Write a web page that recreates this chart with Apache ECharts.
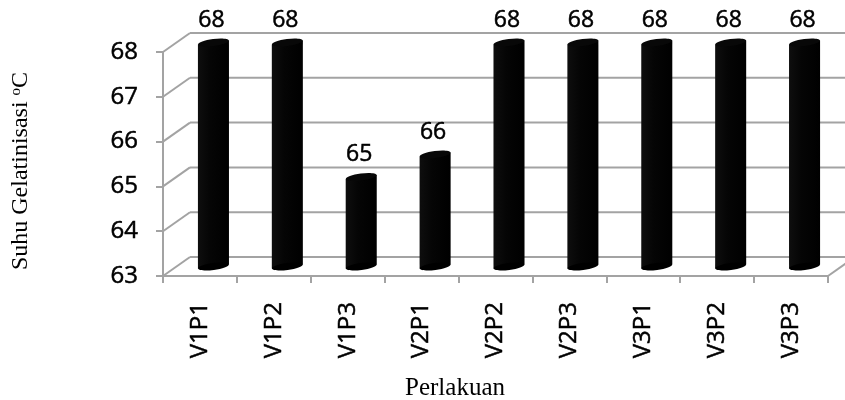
<!DOCTYPE html>
<html>
<head>
<meta charset="utf-8">
<script src="https://cdn.jsdelivr.net/npm/echarts@6/dist/echarts.min.js"></script>
<style>
  html, body { margin: 0; padding: 0; background: #fff; }
  #chart { width: 845px; height: 400px; }
</style>
</head>
<body>
<div id="chart"></div>
<script>
// Gelatinization temperature per treatment
const categories = ['V1P1', 'V1P2', 'V1P3', 'V2P1', 'V2P2', 'V2P3', 'V3P1', 'V3P2', 'V3P3'];
const gelatinizationTemp = [68, 68, 65, 65.5, 68, 68, 68, 68, 68];
const yTicks = [63, 64, 65, 66, 67, 68];
const yTitle = 'Suhu Gelatinisasi {sup|o}C';
const xTitle = 'Perlakuan';

// oblique depth of the pseudo-3D box (pixels)
const DEPTH_X = 27;
const DEPTH_Y = 19;
const GRID_COLOR = '#a3a3a3';
const GRID_WIDTH = 2;
const SANS = '"Open Sans", "Noto Sans", sans-serif';
const SERIF = '"Liberation Serif", "Times New Roman", serif';
// slightly heavier strokes for the sans axis labels
const LABEL_WEIGHT = { textBorderColor: '#000', textBorderWidth: 0.5 };

const chart = echarts.init(document.getElementById('chart'));

// back wall gridlines, side wall connectors and floor edge
function renderWalls(params, api) {
  const v = api.value(1);
  const n = categories.length;
  const bw = api.size([1, 0])[0];
  const p0 = api.coord([0, v]);
  const p1 = api.coord([n - 1, v]);
  const left = p0[0] - bw / 2;
  const right = p1[0] + bw / 2;
  const y = p0[1];
  const style = { stroke: GRID_COLOR, lineWidth: GRID_WIDTH };
  const children = [
    { type: 'line', shape: { x1: left, y1: y, x2: left + DEPTH_X, y2: y - DEPTH_Y }, style },
    { type: 'line', shape: { x1: left + DEPTH_X, y1: y - DEPTH_Y, x2: right + DEPTH_X, y2: y - DEPTH_Y }, style }
  ];
  if (params.dataIndex === 0) {
    children.push({ type: 'line', shape: { x1: right, y1: y, x2: right + DEPTH_X, y2: y - DEPTH_Y }, style });
  }
  return { type: 'group', children };
}

// cylinders placed halfway into the depth of the box
function renderCylinder(params, api) {
  const idx = api.value(0);
  const val = api.value(1);
  const bw = api.size([1, 0])[0];
  const topPt = api.coord([idx, val]);
  const basePt = api.coord([idx, yTicks[0]]);
  const cx = topPt[0] + DEPTH_X / 2;
  const top = topPt[1] - DEPTH_Y / 2;
  const bottom = basePt[1] - DEPTH_Y / 2;
  const w = bw * 0.42;
  const angle = 0.13;
  const t = (w / 2) * Math.sin(angle);
  const fill = new echarts.graphic.LinearGradient(0, 0, 1, 0, [
    { offset: 0, color: '#0e0e0e' },
    { offset: 0.4, color: '#050505' },
    { offset: 1, color: '#000000' }
  ]);
  return {
    type: 'group',
    children: [
      {
        type: 'polygon',
        shape: { points: [[cx - w / 2, top + t], [cx + w / 2, top - t], [cx + w / 2, bottom - t], [cx - w / 2, bottom + t]] },
        style: { fill }
      },
      { type: 'ellipse', x: cx, y: bottom, rotation: angle, shape: { cx: 0, cy: 0, rx: w / 2, ry: 3.5 }, style: { fill: '#000' } },
      { type: 'ellipse', x: cx, y: top, rotation: angle, shape: { cx: 0, cy: 0, rx: w / 2, ry: 3.5 }, style: { fill: '#080808' } },
      {
        type: 'text',
        x: cx - 2,
        y: top - 22,
        style: {
          text: String(Math.round(val)),
          fill: '#000',
          stroke: '#000',
          lineWidth: 0.5,
          fontSize: 23,
          fontFamily: SANS,
          align: 'center',
          verticalAlign: 'middle'
        }
      }
    ]
  };
}

chart.setOption({
  animation: false,
  backgroundColor: '#fff',
  grid: { left: 163, right: 17, top: 52, bottom: 124, containLabel: false },
  xAxis: {
    type: 'category',
    data: categories,
    boundaryGap: true,
    axisLine: { show: true, lineStyle: { color: GRID_COLOR, width: GRID_WIDTH } },
    axisTick: { show: true, length: 7, interval: 0, lineStyle: { color: GRID_COLOR, width: GRID_WIDTH } },
    axisLabel: Object.assign({ rotate: 90, margin: 26, interval: 0, fontSize: 24, color: '#000', fontFamily: SANS }, LABEL_WEIGHT)
  },
  yAxis: {
    type: 'value',
    min: 63,
    max: 68,
    interval: 1,
    axisLine: { show: true, lineStyle: { color: GRID_COLOR, width: GRID_WIDTH } },
    axisTick: { show: true, length: 7, lineStyle: { color: GRID_COLOR, width: GRID_WIDTH } },
    axisLabel: Object.assign({ margin: 25, fontSize: 24, color: '#000', fontFamily: SANS }, LABEL_WEIGHT),
    splitLine: { show: false }
  },
  graphic: [
    {
      type: 'text',
      x: 21,
      y: 171,
      rotation: Math.PI / 2,
      style: {
        text: yTitle,
        fill: '#000',
        fontSize: 24,
        fontFamily: SERIF,
        align: 'center',
        verticalAlign: 'middle',
        rich: { sup: { fontSize: 15, fontFamily: SERIF, fill: '#000', padding: [0, 0, 10, 0] } }
      }
    },
    {
      type: 'text',
      x: 455,
      y: 388,
      style: { text: xTitle, fill: '#000', fontSize: 25, fontFamily: SERIF, align: 'center', verticalAlign: 'middle' }
    }
  ],
  series: [
    {
      type: 'custom',
      name: 'walls',
      clip: false,
      silent: true,
      z: 1,
      encode: { x: 0, y: 1 },
      data: yTicks.map(v => [0, v]),
      renderItem: renderWalls
    },
    {
      type: 'custom',
      name: 'Suhu Gelatinisasi',
      clip: false,
      z: 3,
      encode: { x: 0, y: 1 },
      data: gelatinizationTemp.map((v, i) => [i, v]),
      renderItem: renderCylinder
    }
  ]
});
</script>
</body>
</html>
